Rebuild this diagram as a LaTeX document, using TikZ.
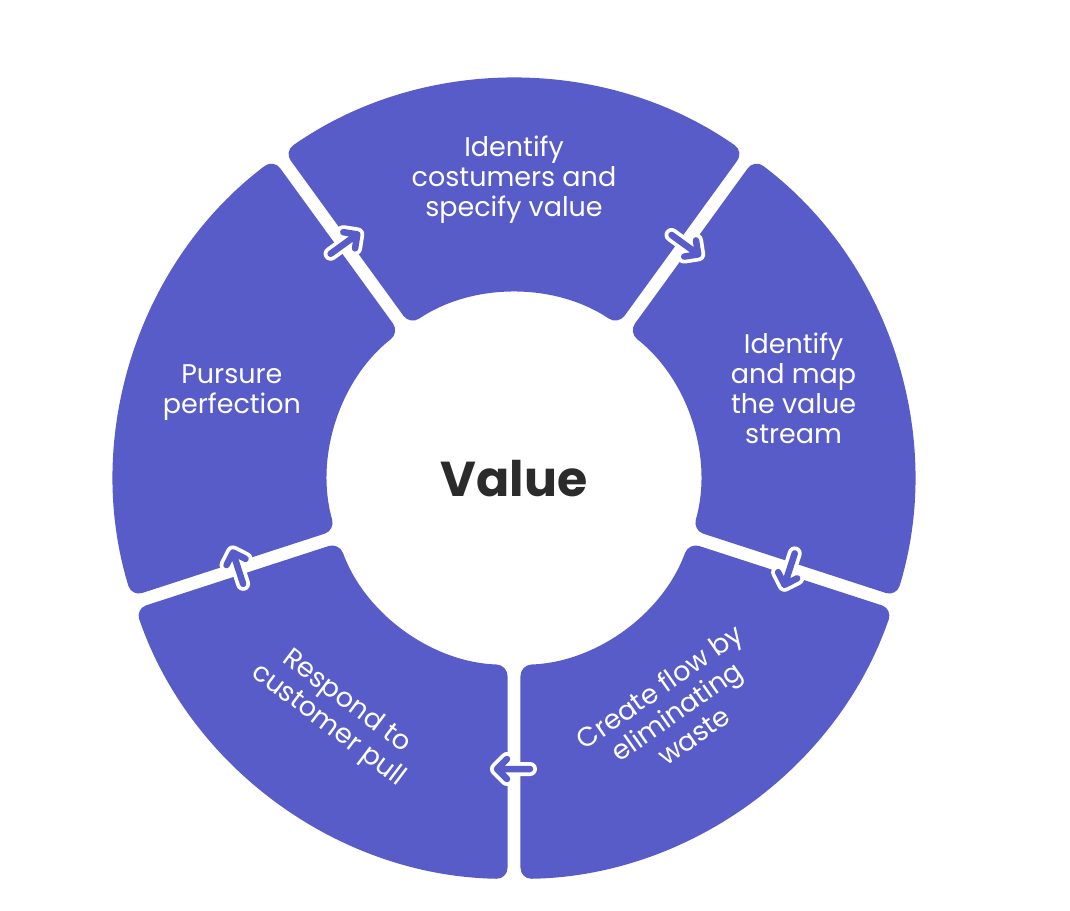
\documentclass[tikz,border=0pt]{standalone}
\usepackage{fontspec}
\setmainfont{Poppins}
\usepackage{tikz}
\usetikzlibrary{arrows.meta,calc}
\definecolor{ringblue}{RGB}{88,92,200}
\definecolor{valgray}{RGB}{43,43,43}
\newcommand{\Rout}{400}
\newcommand{\Rin}{186}
\tikzset{seg/.style={fill=ringblue,rounded corners=11pt}}
\tikzset{segtext/.style={text=white,align=center,font=\fontsize{27}{30}\selectfont}}
\tikzset{flowarr/.style={line cap=round,line join=round}}

\begin{document}
\begin{tikzpicture}[x=1pt,y=1pt]
\useasboundingbox(-514,-431)rectangle(556,479);
% ring segments, gaps of constant width
\foreach \a/\b in {54/126,-18/54,-90/-18,-162/-90,126/198}{\pgfmathsetmacro{\di}{asin(6.5/\Rin)}\pgfmathsetmacro{\do}{asin(6.5/\Rout)}
\fill[seg]($({\a+\di}:\Rin)!.5!({\a+\do}:\Rout)$)--({\a+\do}:\Rout)arc[start angle=\a+\do,end angle=\b-\do,radius=\Rout]--({\b-\di}:\Rin)arc[start angle=\b-\di,end angle=\a+\di,radius=\Rin]--cycle;}
% clockwise arrows across the gaps
\foreach \a in {126,54,-18,-90,-162}{\begin{scope}[shift={(\a:290)},rotate=\a-90]
\draw[flowarr,white,line width=14](-16,0)--(17,0)(7,10)--(17,0)--(7,-10);\draw[flowarr,ringblue,line width=6.5](-16,0)--(17,0)(7,10)--(17,0)--(7,-10);\end{scope}}
\node[segtext](identify) at (90:299){Identify\\costumers and\\specify value};
\node[segtext](mapstream) at (18:294){Identify\\and map\\the value\\stream};
\node[segtext,rotate=35](createflow) at (-55:283){Create flow by\\eliminating\\waste};
\node[segtext,rotate=-37](respond) at (233:294){Respond to\\customer pull};
\node[segtext](pursue) at (163:295){Pursure\\perfection};
\node[text=valgray,font=\fontsize{49}{54}\selectfont\bfseries](value) at (0,0){Value};
\end{tikzpicture}
\end{document}
